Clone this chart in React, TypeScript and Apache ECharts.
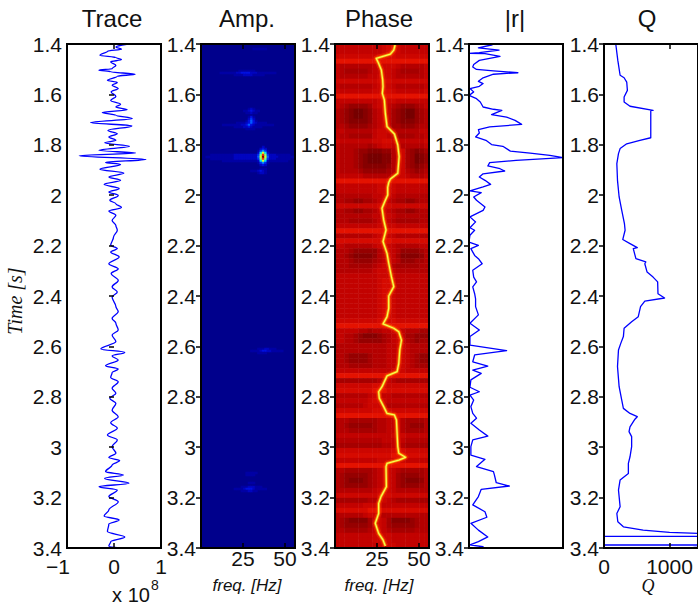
import React, { useEffect, useRef } from "react";
import * as echarts from "echarts";

const timeTicksMin = 1.4;
const timeTicksMax = 3.4;

// Trace: time [s] and amplitude [x 1e8]
const traceT = [1.401,1.412,1.421,1.428,1.445,1.454,1.462,1.471,1.485,1.498,1.504,1.51,1.52,1.528,1.544,1.553,1.564,1.577,1.59,1.608,1.624,1.639,1.65,1.661,1.672,1.683,1.696,1.712,1.725,1.743,1.756,1.769,1.782,1.792,1.806,1.822,1.833,1.843,1.858,1.87,1.878,1.897,1.912,1.928,1.941,1.957,1.974,1.987,2.001,2.02,2.034,2.049,2.063,2.08,2.1,2.12,2.139,2.166,2.199,2.212,2.225,2.245,2.272,2.292,2.311,2.338,2.364,2.384,2.404,2.442,2.462,2.489,2.508,2.535,2.555,2.581,2.61,2.624,2.638,2.654,2.677,2.69,2.704,2.723,2.74,2.766,2.786,2.806,2.826,2.853,2.879,2.903,2.925,2.952,2.971,2.998,3.024,3.041,3.053,3.071,3.097,3.11,3.124,3.143,3.157,3.17,3.196,3.216,3.249,3.273,3.289,3.305,3.335,3.356,3.375,3.392,3.4];
const traceA = [0.27,0.04,0.16,-0.13,-0.3,0.04,0.16,-0.07,0.04,-0.04,-0.32,-0.07,0.45,0.07,-0.14,0.07,-0.04,0.09,-0.06,0.04,-0.07,0.14,0.04,0.28,-0.25,0.04,0.39,-0.5,0.38,-0.13,0.07,-0.11,0.04,-0.2,0.33,-0.32,0.46,-0.74,0.68,-0.18,0.14,-0.3,0.21,-0.11,0.14,-0.21,0.11,-0.11,0.09,-0.09,0.04,0.16,-0.11,0.04,-0.04,0.04,0.07,-0.01,-0.07,0.07,-0.07,0.11,-0.11,0.09,-0.06,0.09,-0.04,0.07,-0.04,0.04,0.09,-0.04,0.04,0.09,-0.04,0.04,-0.28,0.23,-0.04,0.09,-0.18,0.09,-0.04,-0.07,0.09,-0.04,0.04,-0.09,0.04,-0.04,0.09,-0.07,0.07,-0.14,0.07,-0.04,0.04,-0.11,0.12,-0.04,-0.18,0.2,-0.2,0.32,-0.32,0.07,-0.11,0.09,-0.11,-0.21,0.11,-0.11,-0.14,0.23,-0.07,-0.11,0.11];

// |r|: time [s] and normalised magnitude
const absRT = [1.403,1.415,1.424,1.434,1.437,1.438,1.449,1.465,1.481,1.491,1.501,1.507,1.514,1.52,1.534,1.548,1.557,1.568,1.577,1.59,1.604,1.617,1.63,1.65,1.659,1.663,1.68,1.69,1.703,1.719,1.729,1.74,1.753,1.769,1.782,1.799,1.806,1.825,1.833,1.842,1.851,1.862,1.871,1.884,1.895,1.904,1.915,1.928,1.941,1.957,1.967,1.983,1.99,2.007,2.02,2.047,2.06,2.086,2.106,2.129,2.139,2.159,2.186,2.199,2.212,2.239,2.252,2.272,2.298,2.325,2.344,2.364,2.391,2.411,2.442,2.475,2.508,2.535,2.561,2.595,2.617,2.634,2.661,2.678,2.694,2.707,2.733,2.762,2.78,2.793,2.813,2.839,2.866,2.885,2.905,2.932,2.956,2.971,2.998,3.031,3.048,3.077,3.097,3.11,3.141,3.154,3.167,3.196,3.229,3.256,3.278,3.302,3.329,3.356,3.375,3.388,3.395,3.4];
const absRV = [0.25,0.1,0.32,0.11,0,0.17,0.33,0.11,0.05,0.04,0.08,0.26,0.52,0.26,0.15,0.1,0.15,0.11,0.01,0.05,0,0.08,0.12,0.15,0.26,0.35,0.24,0.4,0.49,0.56,0.22,0.1,0.11,0.07,0.18,0.24,0.36,0.44,0.65,0.86,1,0.5,0.22,0.2,0.33,0.38,0.15,0.11,0.17,0.23,0.15,0.01,0.13,0.05,0.08,0.17,0.15,0.01,0.07,0.01,0.06,0.01,0,0.1,0.02,0.06,0.1,0.14,0.04,0.05,0.08,0.04,0.06,0.07,0.07,0.1,0.01,0.11,0.01,0.01,0.4,0.06,0.04,0.2,0.04,0.13,0.02,0.01,0.11,0.01,0.05,0.02,0.04,0.08,0.02,0.11,0.2,0.04,0.02,0.02,0.17,0.08,0.26,0.27,0.29,0.43,0.13,0.1,0.04,0.17,0.19,0.02,0.1,0.2,0.1,0.01,0.15,0.08];

// Q: time [s] and quality factor (the end of the log swings off scale)
const qT = [1.403,1.465,1.524,1.534,1.551,1.584,1.61,1.63,1.647,1.663,1.663,1.772,1.782,1.796,1.815,1.835,1.875,1.941,2.007,2.06,2.113,2.139,2.176,2.192,2.208,2.212,2.252,2.265,2.272,2.305,2.325,2.344,2.391,2.408,2.42,2.442,2.482,2.502,2.528,2.561,2.588,2.614,2.68,2.76,2.813,2.846,2.866,2.879,2.889,2.919,2.938,2.958,2.998,3.038,3.064,3.104,3.13,3.17,3.236,3.263,3.296,3.316,3.329,3.338,3.345,3.354,3.354,3.388,3.388,3.4];
const qV = [181,211,246,307,347,357,307,307,397,749,714,714,548,347,246,221,196,206,231,271,312,322,286,397,508,447,487,638,623,658,749,819,824,925,623,558,523,422,307,296,256,221,206,231,271,296,397,508,472,397,382,422,422,397,372,372,246,221,246,196,211,296,598,1000,1800,1800,-100,-100,1800,1300];

// Phase panel: frequency of the bright ridge against time
const ridgeT = [1.404,1.424,1.44,1.457,1.477,1.503,1.543,1.569,1.596,1.622,1.675,1.728,1.757,1.801,1.847,1.913,1.936,1.95,1.969,1.999,2.026,2.052,2.098,2.138,2.184,2.231,2.27,2.323,2.363,2.4,2.449,2.482,2.511,2.528,2.542,2.575,2.614,2.667,2.7,2.717,2.76,2.78,2.806,2.839,2.866,2.872,2.892,2.945,2.998,3.024,3.04,3.051,3.064,3.077,3.157,3.196,3.223,3.263,3.302,3.342,3.368,3.392];
const ridgeF = [35.8,35,33,24.6,26,27.6,28.4,28.6,28.2,29.4,30,31,35.4,37.4,38.2,37.4,33,32,31.4,31.4,29.6,28,29,30.4,28.6,31,32,33.6,35,32,32,31,28.6,35,38,39.6,38.6,38,37,31,28,26,26.4,29,31,35.4,36.6,37,37.4,38,42,38,31,30.4,30.6,27.4,26,26,24,26,28.6,30];

// Phase panel: red background level, one string per time row, one digit per frequency bin
const phaseRows = [
"55555555556776555555","55555555556776555555","66666666677776666666","88888888888888888888",
"54444444556665444445","54333334556654333345","54444445566654444445","66666666677766666666",
"54444444566654444445","65555555667765555556","88888888888888888888","55555555566665555555",
"54322223566543222345","43210012456532100234","43210012456532100234","43211112456532111234",
"44322223456533222344","55444444566654444455","54433333566543333445","65555555667765555556",
"54444443456654444445","54443221112245632123","54443210001145632012","54443210001145632012",
"54443211111245632123","54444322222345643234","55555544444456654445","88888888888888888888",
"55555555566665555555","55555555566665555555","44444444556654444444","44332233456543322344",
"66666666677766666666","44332233456543322344","44444444556654444444","44433333456543333344",
"55555555566665555555","88888888888888888888","44444444566654444444","77777777778877777777",
"55444444566654444455","44432222245654222234","44321111245653111124","44432222345654222334",
"44433333456543333344","44444444566654444444","55555555566665555555","55555555567765555555",
"55555555567765555555","55555555567765555555","55555555567765555555","55555555567765555555",
"55555555567765555555","55555555567765555555","55555555567765555555","66666666677776666666",
"88888888888888888888","55555443445566544433","55443211123456533222","55443222223456543233",
"44444444444556654444","44444444444556654444","44322223444556654322","44322223444556654322",
"44433333444556654333","55555555555566655555","88888888888888888888","33333333344543333333",
"66666666777666666666","77777777888777777777","44444445665544444444","55555556776555555555",
"44444456665444444444","66666666777766666666","88888888888888888888","44433333344556433334",
"44322222344556432224","44433333344556433334","55555555555566655555","44444444445556544444",
"33333333334455433333","66666666666677766666","77777777777788877777","55555555566667655555",
"88888888888888888888","44333333456654333334","43222223456653222234","43211123456653211124",
"43222223456653222234","44444444566654444444","66666666677766666666","33333334456543333333",
"55555566665555555555","77777778887777777777","44444456654444444444","43211113565311112344",
"43222223565322222344","44333334565433333444","55555555666655555555","55555555666655555555",
"55555555566665555555",
];
const phaseColors = ["#760000","#860000","#960000","#a60000","#b40000","#c20200","#cc0600","#d60a00","#e41200","#f02800"];

// Amp. panel: sparse energy rows. Time, first frequency bin, hex digit per bin; everything else is zero.
const ampBins = 40;
const ampTimeRows = 252;
const ampT = [1.421,1.507,1.515,1.523,1.657,1.665,1.672,1.688,1.696,1.704,1.712,1.72,1.728,1.736,1.809,1.817,1.825,1.833,1.841,1.849,1.857,1.865,1.873,1.881,1.895,1.903,1.911,2.614,2.622,2.63,3.106,3.114,3.146,3.154,3.162,3.17];
const ampStart = [22,16,8,14,20,18,19,20,20,19,15,9,14,19,26,25,24,24,4,2,4,9,24,25,25,21,24,24,21,24,19,19,20,17,14,17];
const ampCells = ["111111","1111111","111111122333322211111111","1111222211111","121","1123211","11211","131","242","13531","1111235321111","1111111122353211111111","111122321111","1111","2","232","14641","27a72","1111111111222222222249d94222111111","11111111111122222222225afa522221111111","1111111111111111111149d94222111111".slice(0,0)+"11111111112222222222"+"49d94"+"222111111","111111111111111"+"27a72"+"11111111","14641","232","111","1112321","1221","11122111","11112332211111","1111","11111","1111","111","111222111","11112333211111","1112211"];
const jetColors = ["#00008c","#0000b0","#0010e0","#0040ff","#0090ff","#00ffff","#80ff80","#ffff00","#ff8000","#ff0000","#800000"];

const panelLefts = [67, 201, 335, 469, 604];
const panelTop = 44;
const panelHeight = 504;
const panelWidths = [94, 94, 94, 94, 95];
const titles = ["Trace", "Amp.", "Phase", "|r|", "Q"];
const titleCenters = [112, 247, 379, 515, 647];
const xRanges = [[-1, 1, 1], [0, 56, 25], [0, 56, 25], [0, 1, 1], [0, 1435, 1000]];
const SANS = "'Liberation Sans', Arial, sans-serif";
const SERIF = "'Liberation Serif', serif";
const BLUE = "#0000ff";
const INK = "#111";

const fmtTime = (v: number) => String(+(+v).toFixed(1));

function buildOption() {
  const grid: any[] = panelLefts.map((left, i) => ({
    left, top: panelTop, width: panelWidths[i], height: panelHeight,
    show: true, borderColor: "#000", borderWidth: 2, backgroundColor: "transparent", z: 10, containLabel: false,
  }));
  const xAxis: any[] = [];
  const yAxis: any[] = [];
  panelLefts.forEach((_, i) => {
    const [min, max, interval] = xRanges[i];
    const showX = i !== 3;
    const freq = i === 1 || i === 2;
    xAxis.push({
      type: "value", gridIndex: i, position: "bottom", min, max, interval, z: 10, splitLine: { show: false },
      axisLine: { show: false },
      axisTick: { show: showX, inside: true, length: 5, lineStyle: { color: "#000", width: 1.5 } },
      axisLabel: {
        show: showX, color: INK, fontFamily: SANS, fontSize: 21, lineHeight: 16, margin: freq ? 2 : 10,
        showMaxLabel: i === 0, showMinLabel: !freq, hideOverlap: false,
        formatter: (v: number) => (v < 0 ? "{n|\u2212" + -v + "}" : v > 1000 ? "" : String(v)),
        rich: { n: { fontFamily: SANS, fontSize: 21, lineHeight: 16, color: INK, padding: [0, 18, 0, 0] } },
      },
    });
    xAxis.push({
      type: "value", gridIndex: i, position: "top", min, max, interval, z: 10, splitLine: { show: false },
      axisLine: { show: false }, axisLabel: { show: false },
      axisTick: { show: showX, inside: true, length: 5, lineStyle: { color: "#000", width: 1.5 } },
    });
    yAxis.push({
      type: "value", gridIndex: i, position: "left", inverse: true, min: timeTicksMin, max: timeTicksMax, interval: 0.2, z: 10,
      splitLine: { show: false }, axisLine: { show: false }, axisTick: { show: false },
      axisLabel: { color: INK, fontFamily: SANS, fontSize: 21, lineHeight: 16, margin: 5, formatter: fmtTime },
    });
    yAxis.push({
      type: "value", gridIndex: i, position: "right", inverse: true, min: timeTicksMin, max: timeTicksMax, interval: 0.2, z: 10,
      splitLine: { show: false }, axisLine: { show: false }, axisLabel: { show: false },
      axisTick: { show: true, inside: true, length: 5, lineStyle: { color: "#000", width: 1.5 } },
    });
  });

  // Hidden category grids for the two heatmaps, sitting under the framed panels.
  const ampGrid = grid.length;
  grid.push({ left: panelLefts[1], top: panelTop, width: panelWidths[1], height: panelHeight, show: true, borderWidth: 0, backgroundColor: jetColors[0], z: 0 });
  const phaseGrid = grid.length;
  grid.push({ left: panelLefts[2], top: panelTop, width: panelWidths[2], height: panelHeight, show: false, z: 0 });
  const ampXIndex = xAxis.length;
  xAxis.push({ type: "category", gridIndex: ampGrid, show: false, data: Array.from({ length: ampBins }, (_, i) => i) });
  const ampYIndex = yAxis.length;
  yAxis.push({ type: "category", gridIndex: ampGrid, show: false, inverse: true, data: Array.from({ length: ampTimeRows }, (_, i) => i) });
  const phaseXIndex = xAxis.length;
  xAxis.push({ type: "category", gridIndex: phaseGrid, show: false, data: Array.from({ length: phaseRows[0].length }, (_, i) => i) });
  const phaseYIndex = yAxis.length;
  yAxis.push({ type: "category", gridIndex: phaseGrid, show: false, inverse: true, data: phaseRows.map((_, i) => i) });

  const ampData: number[][] = [];
  ampT.forEach((t, k) => {
    const row = Math.floor(((t - timeTicksMin) / (timeTicksMax - timeTicksMin)) * ampTimeRows);
    ampCells[k].split("").forEach((c, j) => ampData.push([ampStart[k] + j, row, parseInt(c, 16)]));
  });
  const phaseData: number[][] = [];
  phaseRows.forEach((r, row) => r.split("").forEach((c, col) => phaseData.push([col, row, Number(c)])));

  const line = (panel: number, xs: number[], ts: number[], width: number, color: string, smooth: number | boolean = false, z = 4) => ({
    type: "line", xAxisIndex: panel * 2, yAxisIndex: panel * 2, data: ts.map((t, i) => [xs[i], t]),
    showSymbol: false, symbol: "none", smooth, smoothMonotone: smooth ? "y" : undefined, z,
    lineStyle: { color, width, join: "round" }, silent: true, clip: true,
  });

  const series: any[] = [
    { type: "heatmap", xAxisIndex: ampXIndex, yAxisIndex: ampYIndex, data: ampData, z: 1, silent: true, progressive: 0 },
    { type: "heatmap", xAxisIndex: phaseXIndex, yAxisIndex: phaseYIndex, data: phaseData, z: 1, silent: true, progressive: 0 },
    line(0, traceA, traceT, 1.3, BLUE, 0.35),
    line(2, ridgeF, ridgeT, 6, "rgba(255,60,0,0.35)", false, 3),
    line(2, ridgeF, ridgeT, 3, "rgba(255,150,0,0.8)", false, 3),
    line(2, ridgeF, ridgeT, 1.3, "#f4ff50", false, 4),
    line(3, absRV, absRT, 1.3, BLUE),
    line(4, qV, qT, 1.3, BLUE),
  ];

  const text = (x: number, y: number, s: string, fontSize: number, extra: any = {}) => ({
    type: "text", x, y, silent: true,
    style: { text: s, fontSize, fontFamily: SANS, fill: INK, textAlign: "center", textVerticalAlign: "middle", ...extra },
  });

  const graphic = [
    ...titles.map((t, i) => text(titleCenters[i], 18, t, 24)),
    text(247, 585, "freq. [Hz]", 17, { fontStyle: "italic" }),
    text(379, 585, "freq. [Hz]", 17, { fontStyle: "italic" }),
    text(648, 586, "Q", 18, { fontStyle: "italic", fontFamily: SERIF }),
    text(131, 595, "x 10", 20),
    text(155, 585, "8", 14),
    { type: "text", x: 15, y: 301, rotation: Math.PI / 2, silent: true,
      style: { text: "Time [s]", fontSize: 20, fontFamily: SERIF, fontStyle: "italic", fill: INK, textAlign: "center", textVerticalAlign: "middle" } },
  ];

  return {
    animation: false,
    backgroundColor: "#fff",
    grid, xAxis, yAxis, series, graphic,
    visualMap: [
      { type: "continuous", show: false, seriesIndex: 0, dimension: 2, min: 0, max: 15, inRange: { color: jetColors } },
      { type: "continuous", show: false, seriesIndex: 1, dimension: 2, min: 0, max: 9, inRange: { color: phaseColors } },
    ],
  };
}

export default function App() {
  const ref = useRef<HTMLDivElement>(null);
  useEffect(() => {
    if (!ref.current) return;
    const chart = echarts.init(ref.current, null, { renderer: "svg" });
    chart.setOption(buildOption() as any);
    return () => chart.dispose();
  }, []);
  return <div ref={ref} style={{ position: "absolute", left: 0, top: 0, width: 698, height: 606 }} />;
}
